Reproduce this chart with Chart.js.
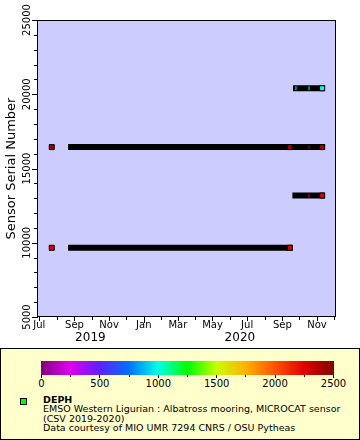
<!DOCTYPE html>
<html>
<head>
<meta charset="utf-8">
<script src="https://cdn.jsdelivr.net/npm/chart.js@4"></script>
<style>
  body { margin: 0; background: #fff; font-family: "DejaVu Sans", sans-serif; }
  #wrap { position: relative; width: 360px; height: 440px; }
  #legend { position: absolute; left: 0; top: 348px; width: 358px; height: 90px; border: 1px solid #000; background: #ffffcc; }
  #cbar { position: absolute; left: 40px; top: 12px; width: 293px; height: 14px; }
  .cb-tick { position: absolute; top: 26px; width: 1px; background: #000; }
  .cb-lab { position: absolute; top: 29px; font-size: 10px; transform: translateX(-50%); }
  #deph-mark { position: absolute; left: 19px; top: 49px; width: 5px; height: 5px; background: #00ff00; border: 1px solid #000; }
  #txt { position: absolute; left: 42px; top: 46px; font-size: 9.5px; line-height: 9.3px; white-space: nowrap; }
</style>
</head>
<body>
<div id="wrap">
  <canvas id="timeChart" width="360" height="348"></canvas>
  <div id="legend">
    <div id="cbar"></div>
    <div id="deph-mark"></div>
    <div id="txt"><b>DEPH</b><br>EMSO Western Ligurian : Albatross mooring, MICROCAT sensor<br>(CSV 2019-2020)<br>Data courtesy of MIO UMR 7294 CNRS / OSU Pytheas</div>
  </div>
</div>
<script>
// ---- data ----
const sensorSerials = [16440, 9660, 13180, 20405];
const runStart = ['2019-08-26', '2019-08-26', '2020-09-24', '2020-09-25'];
const runEnd   = ['2020-11-10', '2020-09-14', '2020-11-10', '2020-11-10'];

const markSerial = [16440, 16440, 16440, 16440, 9660, 9660, 13180, 13180, 20405, 20405, 20405];
const markDate   = ['2019-07-23', '2020-09-14', '2020-10-18', '2020-11-10', '2019-07-23', '2020-09-14', '2020-10-18', '2020-11-10', '2020-09-25', '2020-10-18', '2020-11-10'];
const markDepth  = [2420, 2420, 2420, 2420, 2250, 2250, 2250, 2250, 1000, 1000, 1000];
const markHidden = [false, false, true, false, false, false, true, false, true, true, false]; // mostly covered by the next marker

const xRange = ['2019-06-27', '2020-12-04'];
const yRange = [5000, 25000];
const monthNames = ['Jan', 'Feb', 'Mar', 'Apr', 'May', 'Jun', 'Jul', 'Aug', 'Sep', 'Oct', 'Nov', 'Dec'];
const yearLabels = ['2019', '2020'];
const cbarTicks = [0, 500, 1000, 1500, 2000, 2500];

// colour bar (DEPH, 0..2500)
const paletteValues = [0, 250, 500, 750, 1000, 1250, 1500, 1750, 2000, 2250, 2500];
const paletteColors = ['#800080', '#e000f0', '#6020ff', '#0070ff', '#00ffe8', '#00ff00', '#c8ff00', '#ffb000', '#ff5000', '#e00000', '#800000'];

const toMs = s => Date.UTC(+s.slice(0, 4), +s.slice(5, 7) - 1, +s.slice(8, 10));
const hex = c => [1, 3, 5].map(i => parseInt(c.substr(i, 2), 16));
function depthColor(v) {
    for (let i = 1; i < paletteValues.length; i++) {
        if (v <= paletteValues[i]) {
            const t = (v - paletteValues[i - 1]) / (paletteValues[i] - paletteValues[i - 1]);
            const a = hex(paletteColors[i - 1]), b = hex(paletteColors[i]);
            return 'rgb(' + a.map((c, k) => Math.round(c + (b[k] - c) * t)).join(',') + ')';
        }
    }
    return paletteColors[paletteColors.length - 1];
}

// ---- legend colour bar ----
const cbar = document.getElementById('cbar');
cbar.style.background = 'linear-gradient(to right, ' + paletteColors.map((c, i) => c + ' ' + (paletteValues[i] / 2500 * 100) + '%').join(', ') + ')';
const legend = document.getElementById('legend');
paletteValues.forEach(v => {
    const t = document.createElement('div'); t.className = 'cb-tick';
    t.style.left = (40 + v / 2500 * 292) + 'px'; t.style.height = (v % 500 === 0 ? 3 : 2) + 'px';
    legend.appendChild(t);
});
cbarTicks.forEach(v => {
    const l = document.createElement('div'); l.className = 'cb-lab';
    l.style.left = (40.5 + v / 2500 * 292) + 'px'; l.textContent = v;
    legend.appendChild(l);
});

// ---- chart ----
const xMin = toMs(xRange[0]), xMax = toMs(xRange[1]) + 12 * 3600e3;
const monthTicks = [];
for (let d = new Date(Date.UTC(2019, 6, 1)); d.getTime() <= xMax; d.setUTCMonth(d.getUTCMonth() + 1)) monthTicks.push(d.getTime());

const frame = {
    id: 'frame',
    beforeDraw(chart) {
        const { ctx, chartArea: a } = chart;
        ctx.save(); ctx.fillStyle = '#ccccff';
        ctx.fillRect(a.left, a.top, a.right - a.left, a.bottom - a.top); ctx.restore();
    },
    afterDraw(chart) {
        const { ctx, chartArea: a, scales: { x, y } } = chart;
        ctx.save();
        ctx.strokeStyle = '#000'; ctx.lineWidth = 1;
        ctx.strokeRect(a.left + 0.5, a.top + 0.5, a.right - a.left - 1, a.bottom - a.top - 1);
        ctx.beginPath();
        y.ticks.forEach(t => {
            const py = Math.round(y.getPixelForValue(t.value)) + 0.5, len = t.value % 5000 === 0 ? 5 : 3;
            ctx.moveTo(a.left - len, py); ctx.lineTo(a.left + 1, py);
        });
        x.ticks.forEach(t => {
            const px = Math.round(x.getPixelForValue(t.value)) + 0.5, m = new Date(t.value).getUTCMonth();
            const len = m === 0 ? 6 : (m % 2 === 0 ? 4 : 3);
            ctx.moveTo(px, a.bottom - 1); ctx.lineTo(px, a.bottom + len);
        });
        ctx.stroke();
        ctx.fillStyle = '#000'; ctx.textAlign = 'center'; ctx.textBaseline = 'middle';
        // month labels
        ctx.font = '10px "DejaVu Sans"';
        x.ticks.forEach(t => {
            const m = new Date(t.value).getUTCMonth();
            if (m % 2 === 0) ctx.fillText(monthNames[m], x.getPixelForValue(t.value), 325);
        });
        // y tick labels (rotated)
        y.ticks.filter(t => t.value % 5000 === 0).forEach(t => {
            ctx.save(); ctx.translate(27, y.getPixelForValue(t.value)); ctx.rotate(-Math.PI / 2);
            ctx.fillText(String(t.value), 0, 0); ctx.restore();
        });
        // y title
        ctx.font = '13px "DejaVu Sans"';
        ctx.save(); ctx.translate(12, (a.top + a.bottom) / 2); ctx.rotate(-Math.PI / 2);
        ctx.fillText('Sensor Serial Number', 0, 0); ctx.restore();
        // year labels centred on the part of each year shown
        ctx.font = '12px "DejaVu Sans"';
        yearLabels.forEach(yr => {
            const s = Math.max(xMin, Date.UTC(+yr, 0, 1)), e = Math.min(xMax, Date.UTC(+yr + 1, 0, 1));
            ctx.fillText(yr, (x.getPixelForValue(s) + x.getPixelForValue(e)) / 2, 338);
        });
        ctx.restore();
    }
};

const runDatasets = sensorSerials.map((s, i) => ({
    type: 'line',
    data: [{ x: toMs(runStart[i]), y: s }, { x: toMs(runEnd[i]), y: s }],
    borderColor: '#000', borderWidth: 6, borderCapStyle: 'square',
    pointRadius: 0, pointHoverRadius: 0
}));

const markData = markSerial.map((s, i) => ({ x: toMs(markDate[i]), y: s }));
const markDataset = {
    type: 'scatter',
    data: markData,
    pointStyle: c => markHidden[c.dataIndex] ? 'line' : 'rect',
    rotation: c => markHidden[c.dataIndex] ? 90 : 0,
    radius: c => markHidden[c.dataIndex] ? 2 : 3.54,
    backgroundColor: c => depthColor(markDepth[c.dataIndex]),
    borderColor: c => markHidden[c.dataIndex] ? depthColor(markDepth[c.dataIndex]) : '#000',
    borderWidth: 1
};

new Chart(document.getElementById('timeChart'), {
    type: 'scatter',
    data: { datasets: [markDataset, ...runDatasets] },
    options: {
        responsive: false, animation: false, events: [],
        layout: { padding: { top: 20, right: 24, left: 0, bottom: 0 } },
        plugins: { legend: { display: false }, tooltip: { enabled: false } },
        scales: {
            x: {
                type: 'linear', min: xMin, max: xMax,
                afterBuildTicks: sc => { sc.ticks = monthTicks.map(v => ({ value: v })); },
                afterFit: sc => { sc.height = 31; },
                grid: { display: false }, border: { display: false },
                ticks: { display: false }
            },
            y: {
                type: 'linear', min: yRange[0], max: yRange[1],
                afterBuildTicks: sc => { const t = []; for (let v = yRange[0]; v <= yRange[1]; v += 1000) t.push({ value: v }); sc.ticks = t; },
                afterFit: sc => { sc.width = 37; },
                grid: { display: false }, border: { display: false },
                ticks: { display: false }
            }
        }
    },
    plugins: [frame]
});
</script>
</body>
</html>
